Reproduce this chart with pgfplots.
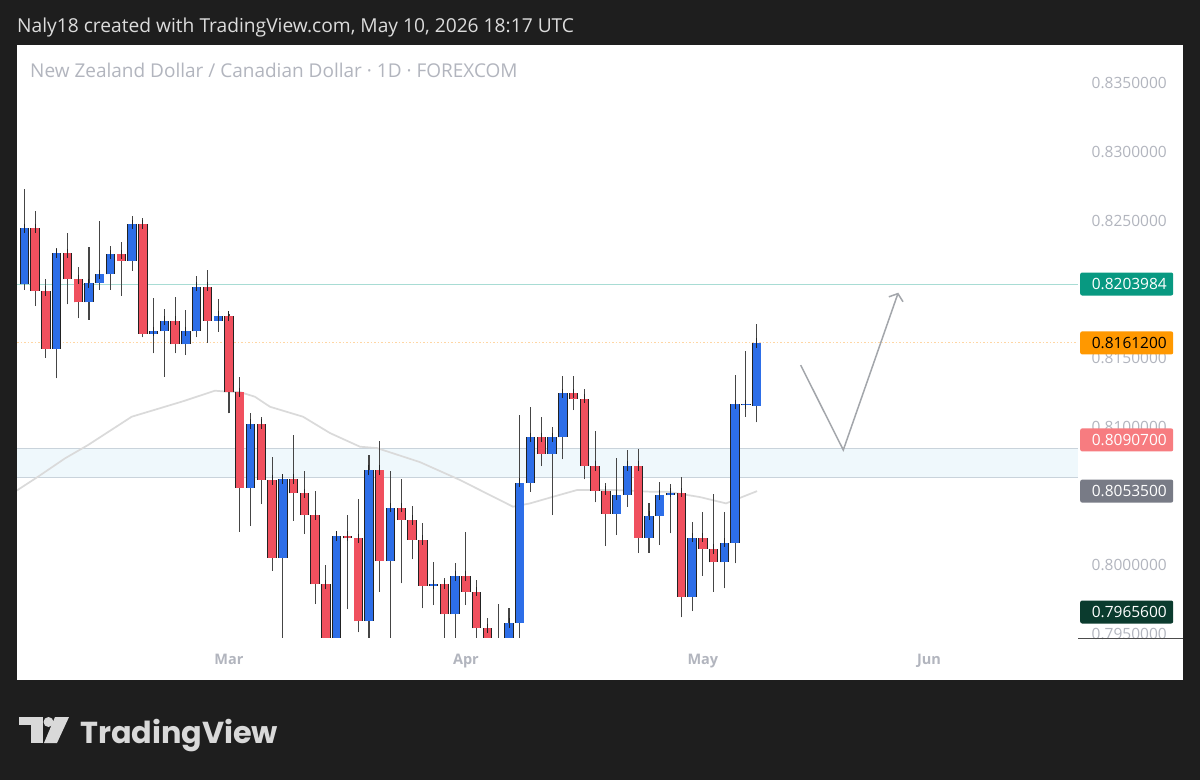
\documentclass[border=0pt]{standalone}
\usepackage{fontspec}
\setmainfont{Open Sans}
\newfontfamily\logofont{Poppins}
\usepackage{graphicx}
\usepackage{pgfplots}
\pgfplotsset{compat=1.18}
\usepackage{pgfplotstable}
\usetikzlibrary{arrows.meta}

\definecolor{bg}{HTML}{1E1E1E}
\definecolor{hdr}{HTML}{DCDCDC}
\definecolor{tvgray}{HTML}{B2B5BE}
\definecolor{tvblue}{HTML}{2D6EE8}
\definecolor{tvred}{HTML}{F0505E}
\definecolor{tvedge}{HTML}{222222}
\definecolor{tvwick}{HTML}{454545}
\definecolor{maline}{HTML}{DADADA}
\definecolor{tealline}{HTML}{A8DCD4}
\definecolor{orangeline}{HTML}{FFD6A3}
\definecolor{zonefill}{HTML}{EFF8FC}
\definecolor{zoneedge}{HTML}{C9D3DB}
\definecolor{arrowc}{HTML}{A3A6AB}
\definecolor{lteal}{HTML}{089981}
\definecolor{lorange}{HTML}{FF9800}
\definecolor{lpink}{HTML}{F77C80}
\definecolor{lgray}{HTML}{787B86}
\definecolor{ldark}{HTML}{0B3B2E}
\definecolor{logoc}{HTML}{D9D9D9}

% daily candles (rising), bar index 0 = Mon 2 Mar 2026
\pgfplotstableread{
i o h l c
-19 0.82038 0.82728 0.81997 0.82445
-16 0.81568 0.82300 0.81355 0.82263
-13 0.81907 0.82307 0.81779 0.82045
-12 0.82045 0.82500 0.81997 0.82111
-11 0.82111 0.82319 0.81997 0.82256
-9 0.82210 0.82537 0.82137 0.82474
-7 0.81677 0.81941 0.81537 0.81696
-6 0.81696 0.81856 0.81366 0.81773
-4 0.81602 0.81851 0.81524 0.81696
-3 0.81696 0.82098 0.81653 0.82021
-1 0.81773 0.81931 0.81694 0.81808
2 0.80560 0.81105 0.80281 0.81023
5 0.80051 0.80635 0.79416 0.80623
10 0.79416 0.80240 0.79344 0.80209
13 0.79591 0.80797 0.79416 0.80688
15 0.80027 0.80681 0.79380 0.80414
19 0.79847 0.80022 0.79707 0.79858
21 0.79640 0.80010 0.79453 0.79918
26 0.79344 0.79683 0.79307 0.79578
27 0.79578 0.81088 0.79460 0.80596
28 0.80596 0.81144 0.80531 0.80926
30 0.80805 0.80999 0.80361 0.80926
31 0.80926 0.81372 0.80766 0.81246
36 0.80369 0.80778 0.80216 0.80507
37 0.80507 0.80834 0.80422 0.80717
39 0.80198 0.80451 0.80087 0.80356
40 0.80356 0.80603 0.80143 0.80507
41 0.80504 0.80587 0.80228 0.80523
43 0.79767 0.80308 0.79664 0.80196
46 0.80017 0.80385 0.79829 0.80160
47 0.80160 0.81379 0.80010 0.81166
48 0.81158 0.81555 0.81076 0.81166
49 0.81156 0.81749 0.81035 0.81612
}\upc

% daily candles (falling)
\pgfplotstableread{
i o h l c
-18 0.82445 0.82573 0.81880 0.81989
-17 0.81989 0.82079 0.81505 0.81568
-15 0.82263 0.82409 0.81893 0.82074
-14 0.82074 0.82162 0.81791 0.81907
-10 0.82256 0.82345 0.81955 0.82210
-8 0.82474 0.82522 0.81653 0.81677
-5 0.81773 0.81948 0.81537 0.81602
-2 0.82021 0.82142 0.81614 0.81773
0 0.81808 0.81822 0.81100 0.81253
1 0.81253 0.81366 0.80240 0.80560
3 0.81023 0.81076 0.80441 0.80616
4 0.80616 0.80781 0.79956 0.80051
6 0.80623 0.80943 0.80320 0.80519
7 0.80519 0.80683 0.80223 0.80361
8 0.80361 0.80536 0.79714 0.79858
9 0.79858 0.79998 0.79307 0.79416
11 0.80209 0.80361 0.79676 0.80192
12 0.80192 0.80478 0.79509 0.79591
14 0.80688 0.80901 0.79804 0.80027
16 0.80414 0.80623 0.79865 0.80325
17 0.80325 0.80429 0.80039 0.80180
18 0.80180 0.80301 0.79683 0.79847
20 0.79858 0.79903 0.79453 0.79640
22 0.79918 0.80240 0.79707 0.79804
23 0.79804 0.79889 0.79416 0.79538
24 0.79538 0.79610 0.79271 0.79380
25 0.79380 0.79712 0.79235 0.79344
29 0.80926 0.81076 0.80717 0.80805
32 0.81246 0.81372 0.81124 0.81207
33 0.81207 0.81275 0.80621 0.80717
34 0.80717 0.80974 0.80454 0.80538
35 0.80538 0.80592 0.80136 0.80369
38 0.80717 0.80839 0.80085 0.80198
42 0.80523 0.80640 0.79618 0.79767
44 0.80196 0.80385 0.79920 0.80114
45 0.80114 0.80512 0.79804 0.80017
}\dnc

% moving average
\pgfplotstableread{
x y
-19.87 0.80531
-17.73 0.80640
-15.23 0.80773
-13.09 0.80870
-9.03 0.81076
-4.39 0.81185
-1.30 0.81265
-0.09 0.81257
1.02 0.81255
2.41 0.81221
3.81 0.81148
6.87 0.81076
9.38 0.80957
12.16 0.80858
13.74 0.80848
17.73 0.80746
21.45 0.80616
26.37 0.80422
27.95 0.80446
30.08 0.80494
32.31 0.80543
36.03 0.80543
39.09 0.80531
40.67 0.80531
43.73 0.80492
46.15 0.80446
49.03 0.80535
}\ma

\pgfplotsset{
  wick/.style={draw=none, mark=none, forget plot,
    error bars/.cd, y dir=plus, y explicit, error mark=none,
    error bar style={draw=tvwick, solid, line width=1.1pt}},
  bodyedge/.style={draw=none, mark=none, forget plot,
    error bars/.cd, y dir=plus, y explicit, error mark=none,
    error bar style={draw=tvedge, solid, line width=9.4pt}},
  bodyfill/.style={draw=none, mark=none, forget plot,
    error bars/.cd, y dir=plus, y explicit, error mark=-,
    error bar style={draw=#1, solid, line width=7.6pt},
    error mark options={draw=tvedge, solid, line width=1pt, mark size=4.7pt}},
}

\newcommand{\pricebox}[4]{%
  \node[fill=#2, rounded corners=2pt, minimum width=93pt, minimum height=23pt, inner sep=0pt, anchor=west] at (1080,#1) {};
  \node[anchor=east, text=#3, font=\fontsize{15.5}{16}\selectfont, inner sep=0pt] at (1167,#1) {#4};
}

\begin{document}
\begin{tikzpicture}
\begin{scope}[x=1pt,y=-1pt]
  \path[use as bounding box] (0,0) rectangle (1200,780);
  \fill[bg] (0,0) rectangle (1200,780);
  \fill[white] (17,45) rectangle (1183,680);
\end{scope}

\begin{axis}[
  at={(17pt,-637pt)}, anchor=south west,
  width=1061pt, height=592pt, scale only axis,
  xmin=-19.684, xmax=78.83, ymin=0.79475, ymax=0.83777,
  axis line style={draw=none}, tick style={draw=none},
  major tick length=0pt,
  scaled y ticks=false,
  ytick={0.795,0.800,0.810,0.815,0.825,0.830,0.835},
  yticklabel pos=right,
  yticklabel style={/pgf/number format/fixed, /pgf/number format/fixed zerofill,
    /pgf/number format/precision=7, /pgf/number format/assume math mode=true,
    anchor=east, xshift=89pt, inner sep=0pt, text=tvgray,
    font=\fontsize{15.5}{16}\selectfont},
  xtick={0,22,44,65}, xticklabels={Mar,Apr,May,Jun},
  xticklabel style={anchor=north, yshift=-17pt, inner sep=0pt, text=tvgray,
    font=\fontsize{14.5}{15}\selectfont\bfseries},
]
  % zone
  \addplot[fill=zonefill, draw=none] coordinates {(-19.684,0.80635)(78.83,0.80635)(78.83,0.80846)(-19.684,0.80846)} -- cycle;
  \addplot[zoneedge, line width=1pt] coordinates {(-19.684,0.80635)(78.83,0.80635)};
  \addplot[zoneedge, line width=1pt] coordinates {(-19.684,0.80846)(78.83,0.80846)};
  % horizontal levels
  \addplot[tealline, line width=1pt] coordinates {(-19.684,0.8203984)(78.83,0.8203984)};
  \addplot[orangeline, line width=1pt, dash pattern=on 1.5pt off 2pt] coordinates {(-19.684,0.81612)(78.83,0.81612)};
  % moving average
  \addplot[maline, line width=1.7pt] table[x=x,y=y] {\ma};
  % wicks
  \addplot[wick] table[x=i, y=l, y error expr=\thisrow{h}-\thisrow{l}] {\upc};
  \addplot[wick] table[x=i, y=l, y error expr=\thisrow{h}-\thisrow{l}] {\dnc};
  % bodies
  \addplot[bodyedge] table[x=i, y=o, y error expr=\thisrow{c}-\thisrow{o}] {\upc};
  \addplot[bodyfill=tvblue] table[x=i, y=o, y error expr=\thisrow{c}-\thisrow{o}] {\upc};
  \addplot[bodyedge] table[x=i, y=c, y error expr=\thisrow{o}-\thisrow{c}] {\dnc};
  \addplot[bodyfill=tvred] table[x=i, y=c, y error expr=\thisrow{o}-\thisrow{c}] {\dnc};
  % projected path
  \addplot[arrowc, line width=1.5pt, -{Straight Barb[length=6pt,width=15pt]}] coordinates {(53.08,0.81451)(57.04,0.80834)(62.14,0.81977)};
\end{axis}

\begin{scope}[x=1pt,y=-1pt]
  \pricebox{284}{lteal}{white}{0.8203984}
  \pricebox{342.9}{lorange}{black}{0.8161200}
  \pricebox{439.9}{lpink}{white}{0.8090700}
  \pricebox{491.1}{lgray}{white}{0.8053500}
  \pricebox{612}{ldark}{white}{0.7965600}
  \draw[black!70, line width=1pt] (1078,638) -- (1183,638);
  \node[anchor=base west, inner sep=0pt, text=hdr, font=\fontsize{19.2}{21}\selectfont] at (17,32) {Naly18 created with TradingView.com, May 10, 2026 18:17 UTC};
  \node[anchor=base west, inner sep=0pt, text=tvgray, font=\fontsize{19}{21}\selectfont] at (30,77) {New Zealand Dollar / Canadian Dollar · 1D · FOREXCOM};
  % logo
  \fill[logoc] (19,717) rectangle (43,725);
  \fill[logoc] (31,717) rectangle (43,743);
  \fill[logoc] (48.5,722) circle (5);
  \fill[logoc] (55,717) -- (69,717) -- (57,743) -- (44,743) -- cycle;
  \node[anchor=base west, inner sep=0pt, text=logoc] at (80,743) {\resizebox{198pt}{!}{\logofont\bfseries TradingView}};
\end{scope}
\end{tikzpicture}
\end{document}
